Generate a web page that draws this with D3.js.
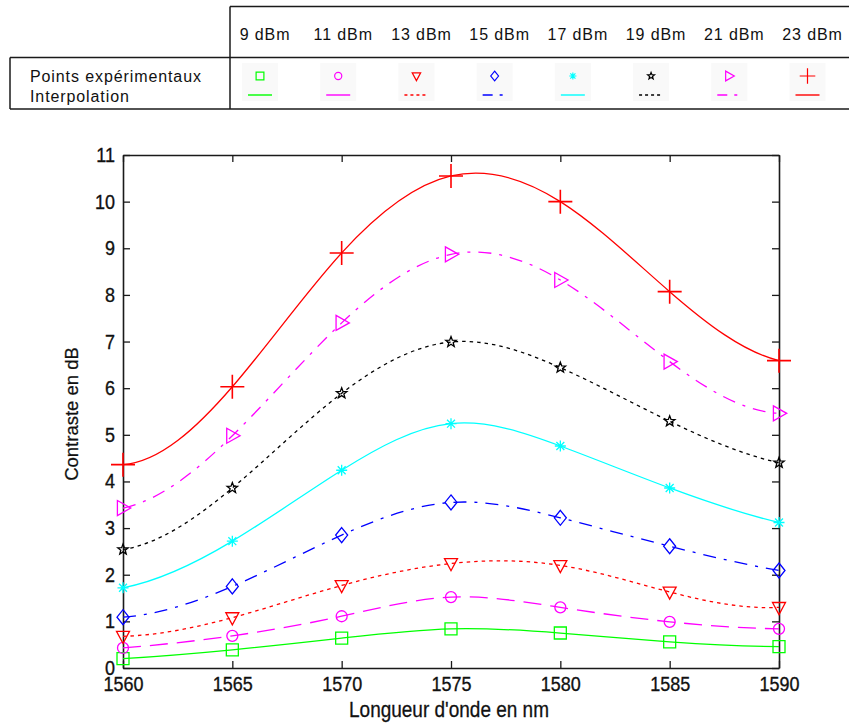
<!DOCTYPE html>
<html>
<head>
<meta charset="utf-8">
<script src="https://cdn.jsdelivr.net/npm/d3@7"></script>
<style>
  html, body { margin: 0; padding: 0; background: #ffffff; }
  svg { display: block; }
  text { font-family: Arial, "Liberation Sans", sans-serif; fill: #111; }
</style>
</head>
<body>
<svg id="chart" width="849" height="727"></svg>
<script>
// ---------------- DATA ----------------
const wavelengths = [1560, 1565, 1570, 1575, 1580, 1585, 1590];
const powerLabels = ["9 dBm", "11 dBm", "13 dBm", "15 dBm", "17 dBm", "19 dBm", "21 dBm", "23 dBm"];
const contrast9  = [0.20, 0.39, 0.64, 0.84, 0.75, 0.56, 0.46];
const contrast11 = [0.43, 0.69, 1.11, 1.52, 1.30, 0.99, 0.84];
const contrast13 = [0.68, 1.08, 1.77, 2.24, 2.20, 1.63, 1.30];
const contrast15 = [1.09, 1.75, 2.85, 3.55, 3.22, 2.61, 2.09];
const contrast17 = [1.72, 2.72, 4.24, 5.24, 4.76, 3.86, 3.12];
const contrast19 = [2.54, 3.86, 5.89, 6.99, 6.44, 5.29, 4.40];
const contrast21 = [3.43, 4.98, 7.40, 8.87, 8.32, 6.57, 5.46];
const contrast23 = [4.36, 6.03, 8.90, 10.55, 10.00, 8.07, 6.59];
const xTicks = [1560, 1565, 1570, 1575, 1580, 1585, 1590];
const yTicks = [0, 1, 2, 3, 4, 5, 6, 7, 8, 9, 10, 11];
const rowLabels = ["Points expérimentaux", "Interpolation"];
const xTitle = "Longueur d'onde en nm";
const yTitle = "Contraste en dB";

// ---------------- STYLES ----------------
const seriesValues = [contrast9, contrast11, contrast13, contrast15, contrast17, contrast19, contrast21, contrast23];
const styles = [
  { color: "#00ff00", dash: null,       legendDash: null,       marker: "square",   w: 12, h: 12 },
  { color: "#ff00ff", dash: "18,9",     legendDash: null,       marker: "circle",   w: 11, h: 11 },
  { color: "#ff0000", dash: "3.5,4",    legendDash: "3,3",      marker: "triDown",  w: 13, h: 13 },
  { color: "#0000ff", dash: "13,8,3,8", legendDash: "10,7,3,7", marker: "diamond",  w: 12, h: 15 },
  { color: "#00ffff", dash: null,       legendDash: null,       marker: "asterisk", w: 11, h: 11 },
  { color: "#000000", dash: "3.5,4",    legendDash: "3,3",      marker: "star",     w: 11, h: 11 },
  { color: "#ff00ff", dash: "13,8,3,8", legendDash: "10,7,3,7", marker: "triRight", w: 14, h: 15 },
  { color: "#ff0000", dash: null,       legendDash: null,       marker: "plus",     w: 24, h: 24 }
];

// marker path generator (centered at 0,0)
function markerPath(type, w, h) {
  const p = d3.path();
  const a = w / 2, b = h / 2;
  switch (type) {
    case "square": p.rect(-a, -b, w, h); break;
    case "circle": p.moveTo(a, 0); p.arc(0, 0, a, 0, 2 * Math.PI); p.closePath(); break;
    case "triDown": p.moveTo(-a, -b * 0.75); p.lineTo(a, -b * 0.75); p.lineTo(0, b * 1.1); p.closePath(); break;
    case "triRight": p.moveTo(-a * 0.8, -b); p.lineTo(a * 1.1, 0); p.lineTo(-a * 0.8, b); p.closePath(); break;
    case "diamond": p.moveTo(0, -b); p.lineTo(a, 0); p.lineTo(0, b); p.lineTo(-a, 0); p.closePath(); break;
    case "plus": p.moveTo(-a, 0); p.lineTo(a, 0); p.moveTo(0, -b); p.lineTo(0, b); break;
    case "asterisk": {
      p.moveTo(-a, 0); p.lineTo(a, 0); p.moveTo(0, -b); p.lineTo(0, b);
      const d = a * 0.72, e = b * 0.72;
      p.moveTo(-d, -e); p.lineTo(d, e); p.moveTo(-d, e); p.lineTo(d, -e);
      break;
    }
    case "star": {
      const ro = a, ri = a * 0.42;
      for (let k = 0; k < 10; k++) {
        const r = k % 2 === 0 ? ro : ri;
        const ang = -Math.PI / 2 + k * Math.PI / 5;
        const x = r * Math.cos(ang), y = r * Math.sin(ang);
        if (k === 0) p.moveTo(x, y); else p.lineTo(x, y);
      }
      p.closePath();
      break;
    }
  }
  return p.toString();
}

// not-a-knot cubic spline curve (like MATLAB spline)
function curveSpline(context) { return new SplineCurve(context); }
class SplineCurve {
  constructor(ctx) { this._context = ctx; }
  areaStart() {} areaEnd() {}
  lineStart() { this._x = []; this._y = []; }
  point(x, y) { this._x.push(+x); this._y.push(+y); }
  lineEnd() {
    const X = this._x, Y = this._y, n = X.length, c = this._context;
    if (n === 0) return;
    c.moveTo(X[0], Y[0]);
    if (n < 4) { for (let i = 1; i < n; i++) c.lineTo(X[i], Y[i]); return; }
    const h = []; for (let i = 0; i < n - 1; i++) h.push(X[i + 1] - X[i]);
    const A = Array.from({ length: n }, () => new Array(n).fill(0));
    const r = new Array(n).fill(0);
    A[0][0] = -h[1]; A[0][1] = h[0] + h[1]; A[0][2] = -h[0];
    for (let i = 1; i < n - 1; i++) {
      A[i][i - 1] = h[i - 1]; A[i][i] = 2 * (h[i - 1] + h[i]); A[i][i + 1] = h[i];
      r[i] = 6 * ((Y[i + 1] - Y[i]) / h[i] - (Y[i] - Y[i - 1]) / h[i - 1]);
    }
    A[n - 1][n - 3] = -h[n - 2]; A[n - 1][n - 2] = h[n - 2] + h[n - 3]; A[n - 1][n - 1] = -h[n - 3];
    for (let col = 0; col < n; col++) {
      let piv = col;
      for (let row = col + 1; row < n; row++) if (Math.abs(A[row][col]) > Math.abs(A[piv][col])) piv = row;
      [A[col], A[piv]] = [A[piv], A[col]]; [r[col], r[piv]] = [r[piv], r[col]];
      for (let row = col + 1; row < n; row++) {
        const f = A[row][col] / A[col][col];
        for (let k = col; k < n; k++) A[row][k] -= f * A[col][k];
        r[row] -= f * r[col];
      }
    }
    const M = new Array(n).fill(0);
    for (let i = n - 1; i >= 0; i--) {
      let s = r[i];
      for (let k = i + 1; k < n; k++) s -= A[i][k] * M[k];
      M[i] = s / A[i][i];
    }
    const m = [];
    for (let i = 0; i < n - 1; i++) m.push((Y[i + 1] - Y[i]) / h[i] - h[i] * (2 * M[i] + M[i + 1]) / 6);
    m.push((Y[n - 1] - Y[n - 2]) / h[n - 2] + h[n - 2] * (M[n - 2] + 2 * M[n - 1]) / 6);
    for (let i = 0; i < n - 1; i++) {
      const d = h[i] / 3;
      c.bezierCurveTo(X[i] + d, Y[i] + m[i] * d, X[i + 1] - d, Y[i + 1] - m[i + 1] * d, X[i + 1], Y[i + 1]);
    }
  }
}

// ---------------- DRAW ----------------
const svg = d3.select("#chart");
const STRETCH = 1.12; // vertical text stretch seen in the reference chart

// ---- legend table ----
const tbl = svg.append("g").attr("class", "legend-table");
const lineCol = "#1a1a1a";
tbl.append("line").attr("x1", 230).attr("x2", 849).attr("y1", 6.5).attr("y2", 6.5);
tbl.append("line").attr("x1", 230).attr("x2", 230).attr("y1", 6.5).attr("y2", 109);
tbl.append("line").attr("x1", 10).attr("x2", 849).attr("y1", 57.5).attr("y2", 57.5);
tbl.append("line").attr("x1", 10).attr("x2", 849).attr("y1", 109).attr("y2", 109);
tbl.append("line").attr("x1", 10).attr("x2", 10).attr("y1", 57.5).attr("y2", 109);
tbl.selectAll("line").attr("stroke", lineCol).attr("stroke-width", 1.5);

const colX = d3.scaleLinear().domain([0, powerLabels.length - 1]).range([265, 812.5]);
tbl.selectAll("text.head").data(powerLabels).join("text")
  .attr("class", "head")
  .attr("x", (d, i) => colX(i)).attr("y", 40)
  .attr("text-anchor", "middle")
  .attr("font-size", 16).attr("letter-spacing", 0.9)
  .text(d => d);
tbl.selectAll("text.row").data(rowLabels).join("text")
  .attr("class", "row")
  .attr("x", 30).attr("y", (d, i) => 82 + i * 20)
  .attr("font-size", 16).attr("letter-spacing", 0.9)
  .text(d => d);

const cells = tbl.selectAll("g.cell").data(styles).join("g")
  .attr("class", "cell")
  .attr("transform", (d, i) => `translate(${colX(i) - 5},0)`);
cells.append("rect").attr("x", -18).attr("y", 63).attr("width", 36).attr("height", 38)
  .attr("fill", "#f9f9f9");
cells.append("path")
  .attr("transform", "translate(0,76)")
  .attr("d", d => markerPath(d.marker, d.w * 0.65, d.h * 0.65))
  .attr("fill", "none").attr("stroke", d => d.color).attr("stroke-width", 1.2);
cells.append("line")
  .attr("x1", -12).attr("x2", 12).attr("y1", 95).attr("y2", 95)
  .attr("stroke", d => d.color).attr("stroke-width", 1.4)
  .attr("stroke-dasharray", d => d.legendDash);

// ---- plot ----
const x = d3.scaleLinear().domain([1560, 1590]).range([123, 779]);
const y = d3.scaleLinear().domain([0, 11]).range([668, 155]);

const plot = svg.append("g").attr("class", "plot");

const axB = plot.append("g").attr("transform", `translate(0,${y(0)})`)
  .call(d3.axisBottom(x).tickValues(xTicks).tickFormat(d3.format("d")).tickSizeInner(-7).tickSizeOuter(0).tickPadding(9));
const axT = plot.append("g").attr("transform", `translate(0,${y(11)})`)
  .call(d3.axisTop(x).tickValues(xTicks).tickFormat("").tickSizeInner(-7).tickSizeOuter(0));
const axL = plot.append("g").attr("transform", `translate(${x(1560)},0)`)
  .call(d3.axisLeft(y).tickValues(yTicks).tickFormat(d3.format("d")).tickSizeInner(-7).tickSizeOuter(0).tickPadding(8));
const axR = plot.append("g").attr("transform", `translate(${x(1590)},0)`)
  .call(d3.axisRight(y).tickValues(yTicks).tickFormat("").tickSizeInner(-7).tickSizeOuter(0));
[axB, axT, axL, axR].forEach(g => {
  g.select(".domain").attr("stroke", "#1a1a1a").attr("stroke-width", 1.6);
  g.selectAll(".tick line").attr("stroke", "#1a1a1a").attr("stroke-width", 1.3);
  g.selectAll(".tick text")
    .attr("font-size", 18).attr("fill", "#111").attr("stroke", "#111").attr("stroke-width", 0.3)
    .attr("font-family", "Arial, 'Liberation Sans', sans-serif")
    .each(function () {
      const t = d3.select(this);
      const yy = +t.attr("y") || 0;
      t.attr("y", 0).attr("transform", `translate(0,${yy}) scale(1,${STRETCH})`);
    });
});

// curves
const line = d3.line().x(d => x(d[0])).y(d => y(d[1])).curve(curveSpline);
const series = plot.selectAll("g.series").data(seriesValues).join("g").attr("class", "series");
series.append("path")
  .attr("d", vals => line(wavelengths.map((w, i) => [w, vals[i]])))
  .attr("fill", "none")
  .attr("stroke", (d, i) => styles[i].color)
  .attr("stroke-width", 1.3)
  .attr("stroke-dasharray", (d, i) => styles[i].dash);
series.each(function (vals, si) {
  const st = styles[si];
  d3.select(this).selectAll("path.mk").data(vals).join("path")
    .attr("class", "mk")
    .attr("transform", (v, i) => `translate(${x(wavelengths[i])},${y(v)})`)
    .attr("d", markerPath(st.marker, st.w, st.h))
    .attr("fill", "none")
    .attr("stroke", st.color)
    .attr("stroke-width", st.marker === "plus" ? 1.6 : 1.3);
});

// titles
svg.append("text").attr("transform", `translate(449,717) scale(1,${STRETCH})`).attr("text-anchor", "middle")
  .attr("font-size", 19).attr("stroke", "#111").attr("stroke-width", 0.25).text(xTitle);
svg.append("text").attr("transform", "translate(78,414) rotate(-90)").attr("text-anchor", "middle")
  .attr("font-size", 18.5).attr("stroke", "#111").attr("stroke-width", 0.25).text(yTitle);
</script>
</body>
</html>
